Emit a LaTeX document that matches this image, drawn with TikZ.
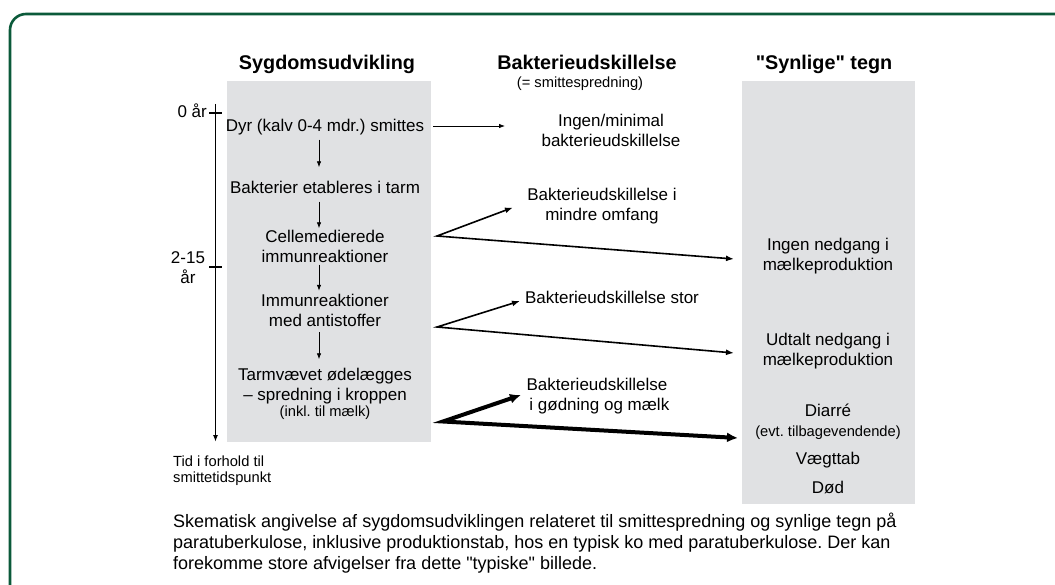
\documentclass[tikz,border=0pt]{standalone}
\usepackage{fontspec}
\setmainfont{Liberation Sans}[Ligatures=TeXOff]
\usetikzlibrary{arrows.meta}
\definecolor{boxgrey}{HTML}{E0E1E3}
\definecolor{framegreen}{HTML}{0B5A3A}
\frenchspacing
\begin{document}
\begin{tikzpicture}[x=1pt,y=-1pt,
  body/.style={font=\fontsize{17}{20}\selectfont, inner sep=0pt, align=center},
  head/.style={font=\fontsize{19.8}{22}\selectfont\bfseries, inner sep=0pt, anchor=base},
  small/.style={font=\fontsize{14.7}{16}\selectfont, inner sep=0pt, align=center},
  capstyle/.style={font=\fontsize{18}{21}\selectfont, inner sep=0pt, align=left},
  greybox/.style={fill=boxgrey, draw=none, inner sep=0pt},
  stepline/.style={-{Latex[length=6pt,width=4.5pt]}, line width=0.8pt},
  forkline/.style={{Latex[length=8pt,width=6pt]}-{Latex[length=8pt,width=6pt]}, line width=1.6pt, line join=miter},
  fatline/.style={{Latex[length=11pt,width=10pt]}-{Latex[length=11pt,width=10pt]}, line width=4pt, line join=miter},
  timeline/.style={-{Latex[length=7pt,width=5pt]}, line width=1.6pt},
  tick/.style={line width=1.6pt},
]
\useasboundingbox (0,0) rectangle (1055,585);
\fill[white] (0,0) rectangle (1055,585);
\clip (0,0) rectangle (1055,585);

% frame
\draw[framegreen, line width=2.6pt, rounded corners=16pt] (10,620) -- (10,14) -- (1090,14);

% grey boxes
\node[greybox, minimum width=204pt, minimum height=361pt] (lbox) at (329,261.5) {};
\node[greybox, minimum width=173pt, minimum height=423pt] (rbox) at (828.5,292.5) {};

% headings
\node[head] (h1) at (327,69.5) {Sygdomsudvikling};
\node[head] (h2) at (587,69.5) {Bakterieudskillelse};
\node[small, anchor=base] (h2s) at (580,88) {(= smittespredning)};
\node[head] (h3) at (824,69.5) {"Synlige" tegn};

% timeline
\coordinate (ttop) at (215.5,104);
\coordinate (tbot) at (215.5,442);
\coordinate (tk0a) at (209,113);
\coordinate (tk0b) at (222,113);
\coordinate (tk1a) at (209,267);
\coordinate (tk1b) at (222,267);
\draw[timeline] (ttop) -- (tbot);
\draw[tick] (tk0a) -- (tk0b);
\draw[tick] (tk1a) -- (tk1b);
\node[body, anchor=east] (t0) at (207,113.5) {\strut 0 år};
\node[body] (t1) at (188,269.5) {\strut 2-15\\\strut år};
\node[small, anchor=west, align=left] (tid) at (173,471.5) {\strut Tid i forhold til\\\strut smittetidspunkt};

% disease development
\node[body] (s1) at (325,127.5) {\strut Dyr (kalv 0-4 mdr.) smittes};
\node[body] (s2) at (325,189.5) {\strut Bakterier etableres i tarm};
\node[body] (s3) at (325,248.5) {\strut Cellemedierede\\\strut immunreaktioner};
\node[body] (s4) at (325,313) {\strut Immunreaktioner\\\strut med antistoffer};
\node[body] (s5) at (325,386.5) {\strut Tarmvævet ødelægges\\\strut – spredning i kroppen};
\node[small] (s5b) at (325,413.3) {\strut (inkl. til mælk)};

\draw[stepline, shorten <=2pt, shorten >=12pt] ([xshift=-6pt]s1.south) -- ([xshift=-6pt]s2.north);
\draw[stepline, shorten <=2pt, shorten >=0pt] ([xshift=-6pt]s2.south) -- ([xshift=-6pt]s3.north);
\draw[stepline, shorten <=-4pt, shorten >=2pt] ([xshift=-6pt]s3.south) -- ([xshift=-6pt]s4.north);
\draw[stepline, shorten <=-1pt, shorten >=7pt] ([xshift=-6pt]s4.south) -- ([xshift=-6pt]s5.north);

% shedding
\node[body] (m1) at (611,132.5) {\strut Ingen/minimal\\\strut bakterieudskillelse};
\node[body] (m2) at (602,206.5) {\strut Bakterieudskillelse i\\\strut mindre omfang};
\node[body] (m3) at (612,299.5) {\strut Bakterieudskillelse stor};
\node[body] (m4) at (597,396.5) {\strut Bakterieudskillelse\\\strut\ i gødning og mælk};

% visible signs
\node[body] (r1) at (828,257) {\strut Ingen nedgang i\\\strut mælkeproduktion};
\node[body] (r2) at (828,351) {\strut Udtalt nedgang i\\\strut mælkeproduktion};
\node[body] (r3) at (828,412.5) {\strut Diarré};
\node[small] (r3b) at (828,433.3) {\strut (evt. tilbagevendende)};
\node[body] (r4) at (828,460.5) {\strut Vægttab};
\node[body] (r5) at (828,489.5) {\strut Død};

% arrows to shedding / signs
\coordinate (a0s) at (433,126);
\coordinate (a0e) at (505,126);
\draw[stepline] (a0s) -- (a0e);

\coordinate (f1) at (437,236);
\coordinate (f1u) at (513,207.5);
\coordinate (f1d) at (734,259);
\draw[forkline] (f1u) -- (f1) -- (f1d);

\coordinate (f2) at (437,327);
\coordinate (f2u) at (520,301);
\coordinate (f2d) at (734,353);
\draw[forkline] (f2u) -- (f2) -- (f2d);

\coordinate (f3) at (443,421.5);
\coordinate (f3u) at (521,395);
\coordinate (f3d) at (738,438);
\draw[fatline] (f3u) -- (f3) -- (f3d);

% caption
\node[capstyle, anchor=west] (cap) at (173,543) {Skematisk angivelse af sygdomsudviklingen relateret til smittespredning og synlige tegn på\\paratuberkulose, inklusive produktionstab, hos en typisk ko med paratuberkulose. Der kan\\forekomme store afvigelser fra dette "typiske" billede.};
\end{tikzpicture}
\end{document}
